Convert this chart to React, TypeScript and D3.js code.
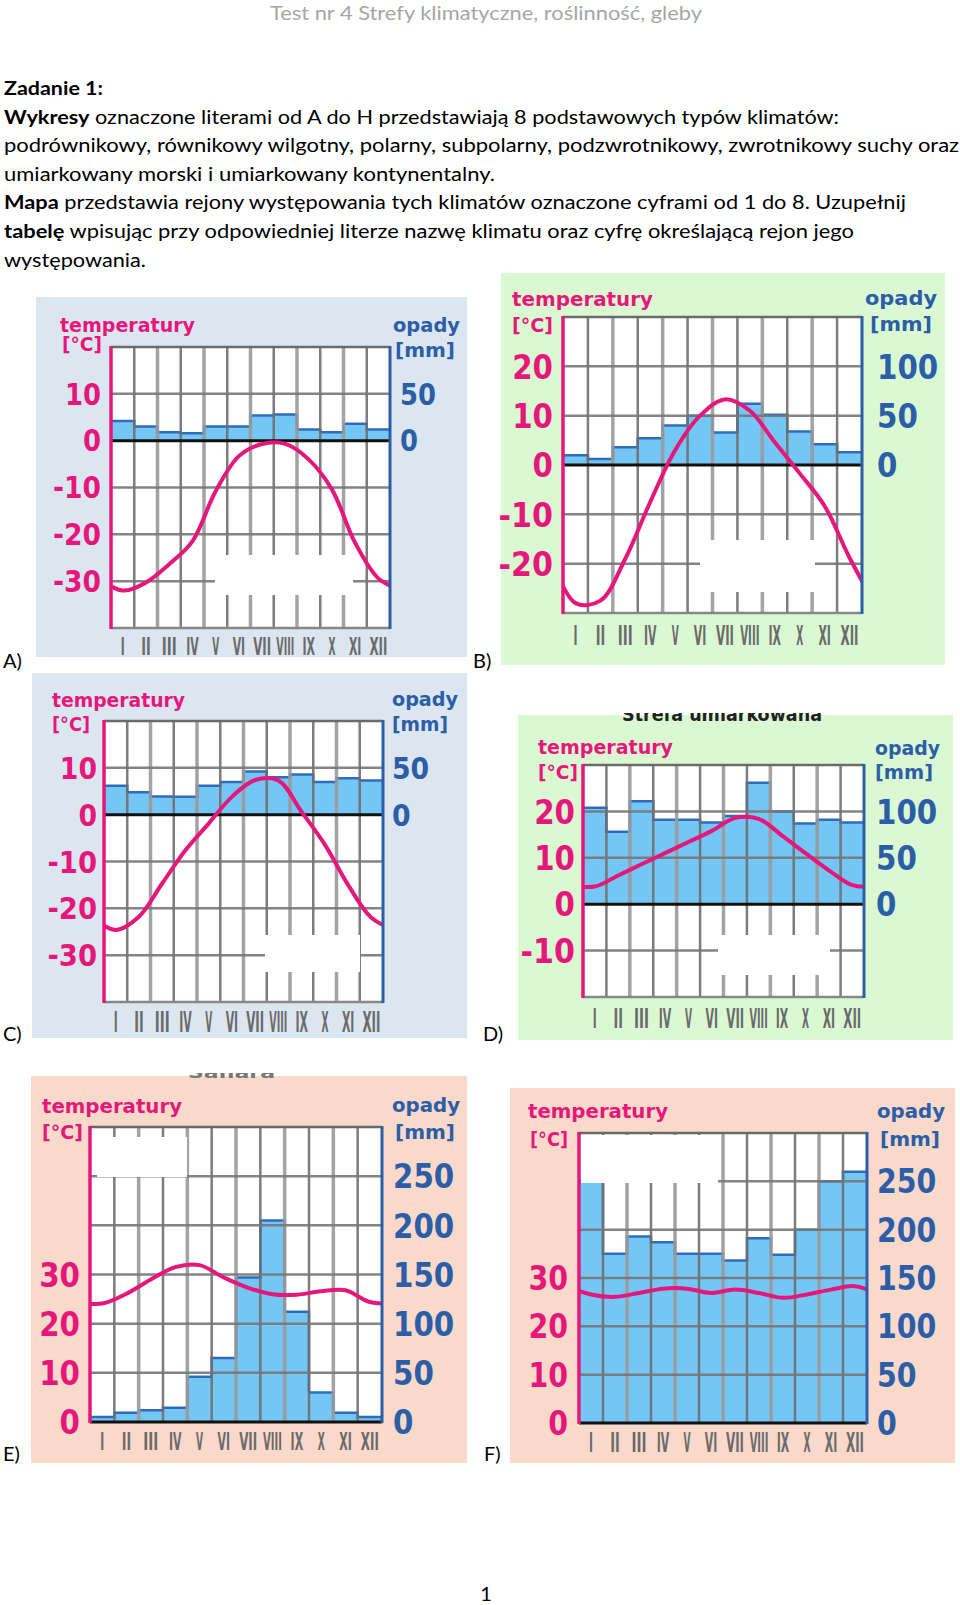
import React from "react";
import * as d3 from "d3";

// ---------- DATA ----------
const months = ["I", "II", "III", "IV", "V", "VI", "VII", "VIII", "IX", "X", "XI", "XII"];

const tempA = [-32, -30.3, -26.4, -21.5, -10.8, -3.3, -0.7, -0.7, -4, -10.4, -21.8, -29.4];
const precipA = [21, 15, 9, 8, 15, 15, 27, 28, 12, 9, 18, 12];

const tempB = [-28, -27.5, -19, -7.5, 3, 10, 13.3, 11, 4.6, -1.7, -8.3, -18.8];
const precipB = [10, 6, 18, 27, 40, 50, 33, 62, 51, 34, 21, 13];

const tempC = [-24.6, -21.8, -14.7, -7.6, -1.9, 3.8, 7.4, 7.3, 0.6, -6.4, -15, -22];
const precipC = [31, 24, 19.5, 19, 31, 35, 46, 40, 43, 35, 39, 36.5];

const tempD = [3.8, 6.2, 8.6, 11, 13.4, 15.8, 18.6, 18.4, 14.8, 11, 7.3, 4.1];
const precipD = [104, 78, 111, 91, 91, 88, 95, 131, 100, 87, 91, 88];

const tempE = [24.1, 26.1, 29, 31.5, 31.9, 29.4, 27.3, 26, 25.9, 26.6, 26.8, 24.4];
const precipE = [5, 9.5, 12, 14.6, 46, 65, 147, 205, 112, 30, 9.5, 5];

const tempF = [26.6, 26.1, 26.9, 27.8, 27.8, 26.9, 27.6, 26.9, 25.9, 26.6, 27.6, 28.3];
const precipF = [250, 175, 193, 187, 175, 175, 168, 191, 174, 200, 250, 260];

const tTicksCold = [10, 0, -10, -20, -30];
const pTicksCold = [50, 0];
const tTicksMid = [20, 10, 0, -10, -20];
const pTicksMid = [100, 50, 0];
const tTicksD = [20, 10, 0, -10];
const tTicksHot = [30, 20, 10, 0];
const pTicksHot = [250, 200, 150, 100, 50, 0];

const headerText = "Test nr 4 Strefy klimatyczne, roślinność, gleby";
const bodyLines: { bold: string; rest: string; w: number }[] = [
  { bold: "Zadanie 1:", rest: "", w: 99 },
  { bold: "Wykresy", rest: " oznaczone literami od A do H przedstawiają 8 podstawowych typów klimatów:", w: 835 },
  { bold: "", rest: "podrównikowy, równikowy wilgotny, polarny, subpolarny, podzwrotnikowy, zwrotnikowy suchy oraz", w: 955 },
  { bold: "", rest: "umiarkowany morski i umiarkowany kontynentalny.", w: 491 },
  { bold: "Mapa", rest: " przedstawia rejony występowania tych klimatów oznaczone cyframi od 1 do 8. Uzupełnij", w: 902 },
  { bold: "tabelę", rest: " wpisując przy odpowiedniej literze nazwę klimatu oraz cyfrę określającą rejon jego", w: 850 },
  { bold: "", rest: "występowania.", w: 142 },
];

// ---------- STYLE / LAYOUT ----------
const PINK = "#e6177b";
const BLUE = "#2c5ea8";
const BAR = "#74c7f4";
const BAR_EDGE = "#2f6cbd";
const BG_BLUE = "#dce6f1";
const BG_GREEN = "#daf9d3";
const BG_PEACH = "#f9d9ca";

type Cfg = {
  id: string;
  letter: string;
  letterX: number;
  letterY: number;
  panel: [number, number, number, number];
  bg: string;
  plot: [number, number, number, number];
  tDomain: [number, number];
  tTicks: number[];
  pTicks: number[];
  tickFs: number;
  lx: number;
  rx: number;
  labFs: number;
  tl: [number, number, number];
  cl: [number, number, number];
  ol: [number, number, number];
  ml: [number, number, number];
  monthY: number;
  monthFs: number;
  boxes: [number, number, number, number][];
  temps: number[];
  precip: number[];
};

const charts: Cfg[] = [
  {
    id: "A", letter: "A)", letterX: 3, letterY: 668,
    panel: [36, 297, 467, 657], bg: BG_BLUE,
    plot: [111, 347, 390, 628], tDomain: [-40, 20], tTicks: tTicksCold, pTicks: pTicksCold,
    tickFs: 30, lx: 101, rx: 400, labFs: 19,
    tl: [60, 332, 135], cl: [62, 351, 40], ol: [393, 332, 67], ml: [395, 357, 60],
    monthY: 655, monthFs: 24, boxes: [[215, 555, 138, 40]],
    temps: tempA, precip: precipA,
  },
  {
    id: "B", letter: "B)", letterX: 473, letterY: 668,
    panel: [501, 273, 945, 665], bg: BG_GREEN,
    plot: [563, 317, 862, 613], tDomain: [-30, 30], tTicks: tTicksMid, pTicks: pTicksMid,
    tickFs: 34, lx: 553, rx: 877, labFs: 20,
    tl: [512, 306, 141], cl: [512, 332, 41], ol: [865, 305, 72], ml: [870, 331, 62],
    monthY: 645, monthFs: 27, boxes: [[700, 540, 115, 52]],
    temps: tempB, precip: precipB,
  },
  {
    id: "C", letter: "C)", letterX: 3, letterY: 1041,
    panel: [32, 673, 467, 1038], bg: BG_BLUE,
    plot: [104, 721, 383, 1002], tDomain: [-40, 20], tTicks: tTicksCold, pTicks: pTicksCold,
    tickFs: 31, lx: 97, rx: 392, labFs: 20,
    tl: [52, 707, 133], cl: [52, 731, 38], ol: [392, 706, 66], ml: [392, 731, 56],
    monthY: 1032, monthFs: 28, boxes: [[265, 935, 95, 37]],
    temps: tempC, precip: precipC,
  },
  {
    id: "D", letter: "D)", letterX: 483, letterY: 1041,
    panel: [518, 715, 953, 1040], bg: BG_GREEN,
    plot: [583, 765, 864, 997], tDomain: [-20, 30], tTicks: tTicksD, pTicks: pTicksMid,
    tickFs: 34, lx: 575, rx: 876, labFs: 20,
    tl: [538, 754, 135], cl: [538, 779, 40], ol: [875, 755, 65], ml: [875, 779, 58],
    monthY: 1028, monthFs: 27, boxes: [[718, 935, 112, 40]],
    temps: tempD, precip: precipD,
  },
  {
    id: "E", letter: "E)", letterX: 3, letterY: 1461,
    panel: [31, 1076, 467, 1463], bg: BG_PEACH,
    plot: [90, 1127, 382, 1422], tDomain: [0, 60], tTicks: tTicksHot, pTicks: pTicksHot,
    tickFs: 34, lx: 80, rx: 393, labFs: 20,
    tl: [42, 1113, 140], cl: [42, 1139, 41], ol: [392, 1112, 68], ml: [395, 1139, 60],
    monthY: 1450, monthFs: 25, boxes: [[97, 1137, 90, 40]],
    temps: tempE, precip: precipE,
  },
  {
    id: "F", letter: "F)", letterX: 484, letterY: 1461,
    panel: [510, 1088, 955, 1463], bg: BG_PEACH,
    plot: [579, 1133, 867, 1423], tDomain: [0, 60], tTicks: tTicksHot, pTicks: pTicksHot,
    tickFs: 33, lx: 568, rx: 877, labFs: 20,
    tl: [528, 1118, 140], cl: [530, 1146, 38], ol: [877, 1118, 68], ml: [880, 1146, 60],
    monthY: 1452, monthFs: 26, boxes: [[581, 1135, 137, 48]],
    temps: tempF, precip: precipF,
  },
];

const CHART_FONT = "'DejaVu Sans', Verdana, sans-serif";
const PAGE_FONT = "Lato, 'Open Sans', sans-serif";

function tickWidth(label: string, fs: number) {
  let w = 0;
  for (const ch of label) w += ch === "-" ? fs * 0.4 : fs * 0.6;
  return w;
}

function monthWidth(m: string, bw: number) {
  const hasWide = /[VX]/.test(m);
  return Math.min(bw * 0.78, 4 + (m.length - 1) * 5.5 + (hasWide ? 3 : 0));
}

function Chart({ c }: { c: Cfg }) {
  const [x0, y0, x1, y1] = c.plot;
  const xs = d3.scaleLinear().domain([0, 12]).range([x0, x1]);
  const yT = d3.scaleLinear().domain(c.tDomain).range([y1, y0]);
  const yP = d3.scaleLinear().domain([c.tDomain[0] * 5, c.tDomain[1] * 5]).range([y1, y0]);
  const bw = xs(1) - xs(0);

  const pts = [
    { i: -0.5, v: c.temps[11] },
    ...c.temps.map((v, i) => ({ i: i + 0.5, v })),
    { i: 12.5, v: c.temps[0] },
  ];
  const line = d3
    .line<{ i: number; v: number }>()
    .x((d) => xs(d.i))
    .y((d) => yT(d.v))
    .curve(d3.curveCatmullRom.alpha(0.5));

  let step = `M${xs(0)},${yP(c.precip[0])}`;
  c.precip.forEach((p, i) => {
    step += `H${xs(i + 1)}`;
    if (i < 11) step += `V${yP(c.precip[i + 1])}`;
  });

  const hLines = d3.range(c.tDomain[0] + 10, c.tDomain[1], 10).filter((t) => t !== 0);
  const hasZero = c.tDomain[0] < 0;
  const mFs = c.monthFs * 0.5;

  return (
    <g>
      <rect x={c.panel[0]} y={c.panel[1]} width={c.panel[2] - c.panel[0]} height={c.panel[3] - c.panel[1]} fill={c.bg} />
      <clipPath id={`clip${c.id}`}>
        <rect x={x0} y={y0} width={x1 - x0} height={y1 - y0} />
      </clipPath>
      <rect x={x0} y={y0} width={x1 - x0} height={y1 - y0} fill="#fff" />
      {c.precip.map((p, i) => (
        <rect key={i} x={xs(i)} y={yP(p)} width={bw} height={yP(0) - yP(p)} fill={BAR} />
      ))}
      <path d={step} fill="none" stroke={BAR_EDGE} strokeWidth={2.5} />
      {d3.range(1, 12).map((i) => (
        <line
          key={i}
          x1={xs(i)}
          x2={xs(i)}
          y1={y0}
          y2={y1}
          stroke={i % 2 ? "#6f6f6f" : "#9a9a9a"}
          strokeWidth={i % 2 ? 2.5 : 3.5}
          opacity={0.9}
        />
      ))}
      {hLines.map((t) => (
        <line key={t} x1={x0} x2={x1} y1={yT(t)} y2={yT(t)} stroke="#777" strokeWidth={2.5} opacity={0.9} />
      ))}
      <line x1={x0} x2={x1} y1={y0} y2={y0} stroke="#6a6a6a" strokeWidth={2.5} />
      <line x1={x0} x2={x1} y1={y1} y2={y1} stroke={hasZero ? "#888" : "#111"} strokeWidth={hasZero ? 2.5 : 3} />
      {hasZero && <line x1={x0} x2={x1} y1={yT(0)} y2={yT(0)} stroke="#111" strokeWidth={3} />}
      {c.boxes.map((b, k) => (
        <rect key={k} x={b[0]} y={b[1]} width={b[2]} height={b[3]} fill="#fff" />
      ))}
      <path d={line(pts) || ""} fill="none" stroke={PINK} strokeWidth={4} clipPath={`url(#clip${c.id})`} />
      <line x1={x0} x2={x0} y1={y0 - 1} y2={y1 + 1} stroke={PINK} strokeWidth={3.5} />
      <line x1={x1} x2={x1} y1={y0 - 1} y2={y1 + 1} stroke={BLUE} strokeWidth={3} />
      {c.tTicks.map((t) => (
        <text
          key={t}
          x={c.lx}
          y={yT(t)}
          dy="0.36em"
          textAnchor="end"
          fontSize={c.tickFs}
          fontWeight="bold"
          fill={PINK}
          fontFamily={CHART_FONT}
          textLength={tickWidth(String(t), c.tickFs)}
          lengthAdjust="spacingAndGlyphs"
        >
          {t}
        </text>
      ))}
      {c.pTicks.map((p) => (
        <text
          key={p}
          x={c.rx}
          y={yP(p)}
          dy="0.36em"
          fontSize={c.tickFs}
          fontWeight="bold"
          fill={BLUE}
          fontFamily={CHART_FONT}
          textLength={tickWidth(String(p), c.tickFs)}
          lengthAdjust="spacingAndGlyphs"
        >
          {p}
        </text>
      ))}
      <text x={c.tl[0]} y={c.tl[1]} fontSize={c.labFs} fontWeight="bold" fill={PINK} fontFamily={CHART_FONT}
        textLength={c.tl[2]} lengthAdjust="spacingAndGlyphs">temperatury</text>
      <text x={c.cl[0]} y={c.cl[1]} fontSize={c.labFs} fontWeight="bold" fill={PINK} fontFamily={CHART_FONT}
        textLength={c.cl[2]} lengthAdjust="spacingAndGlyphs">[°C]</text>
      <text x={c.ol[0]} y={c.ol[1]} fontSize={c.labFs} fontWeight="bold" fill={BLUE} fontFamily={CHART_FONT}
        textLength={c.ol[2]} lengthAdjust="spacingAndGlyphs">opady</text>
      <text x={c.ml[0]} y={c.ml[1]} fontSize={c.labFs} fontWeight="bold" fill={BLUE} fontFamily={CHART_FONT}
        textLength={c.ml[2]} lengthAdjust="spacingAndGlyphs">[mm]</text>
      {months.map((m, i) => (
        <g key={m} transform={`translate(${xs(i + 0.5)},${c.monthY}) scale(1,2)`}>
          <text
            x={0}
            y={0}
            textAnchor="middle"
            fontSize={mFs}
            fontWeight="bold"
            fill="#6b6b6b"
            fontFamily={CHART_FONT}
            textLength={monthWidth(m, bw)}
            lengthAdjust="spacingAndGlyphs"
          >
            {m}
          </text>
        </g>
      ))}
      <text x={c.letterX} y={c.letterY} fontSize={20} fontFamily={PAGE_FONT} fill="#000">
        {c.letter}
      </text>
    </g>
  );
}

export default function App() {
  return (
    <svg
      width={960}
      height={1605}
      viewBox="0 0 960 1605"
      style={{ position: "absolute", left: 0, top: 0, background: "#fff" }}
    >
      <rect width={960} height={1605} fill="#fff" />
      <text x={270} y={20} fontSize={20} fill="#a6a6a6" fontFamily={PAGE_FONT} textLength={432} lengthAdjust="spacingAndGlyphs">
        {headerText}
      </text>
      {bodyLines.map((l, k) => (
        <text
          key={k}
          x={4}
          y={95 + k * 28.6}
          fontSize={19.5}
          fill="#000"
          fontFamily={PAGE_FONT}
          textLength={l.w}
          lengthAdjust="spacingAndGlyphs"
        >
          {l.bold && <tspan fontWeight="bold">{l.bold}</tspan>}
          {l.rest}
        </text>
      ))}
      {charts.map((c) => (
        <Chart key={c.id} c={c} />
      ))}
      <clipPath id="cutD">
        <rect x={600} y={713} width={240} height={8} />
      </clipPath>
      <text x={622} y={721} fontSize={20} fontWeight="bold" fill="#222" fontFamily={CHART_FONT}
        textLength={200} lengthAdjust="spacingAndGlyphs" clipPath="url(#cutD)">Strefa umiarkowana</text>
      <clipPath id="cutE">
        <rect x={180} y={1073} width={110} height={5} />
      </clipPath>
      <text x={188} y={1078} fontSize={16} fontWeight="bold" fill="#777" fontFamily={CHART_FONT}
        textLength={87} lengthAdjust="spacingAndGlyphs" clipPath="url(#cutE)">Sahara</text>
      <text x={486} y={1601} fontSize={20} textAnchor="middle" fill="#000" fontFamily={PAGE_FONT}>
        1
      </text>
    </svg>
  );
}
